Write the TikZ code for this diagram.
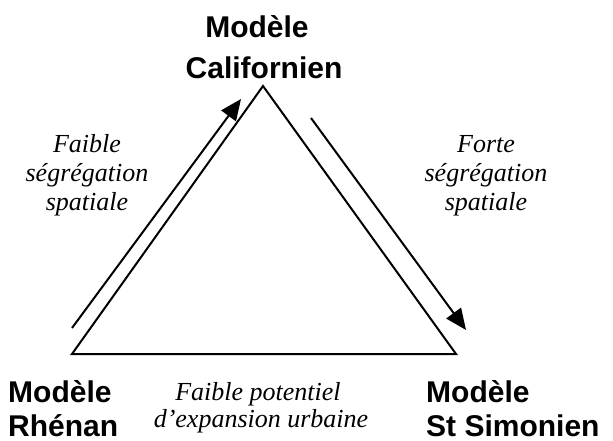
\documentclass[tikz,border=0pt]{standalone}
\usepackage{fontspec}
\setmainfont{Liberation Serif}
\setsansfont{Liberation Sans}
\usetikzlibrary{arrows.meta}
\tikzset{
  bold/.style={font=\sffamily\bfseries\fontsize{30}{36}\selectfont, inner sep=0pt},
  ital/.style={font=\itshape\fontsize{26}{30}\selectfont, inner sep=0pt},
  edge/.style={line width=2pt, line join=miter},
  flow/.style={line width=2pt, -{Triangle[length=21pt,width=18pt]}}
}
\begin{document}
\begin{tikzpicture}[x=1pt,y=-1pt]
\useasboundingbox (0,0) rectangle (613,441);
% triangle
\coordinate (A) at (263,86);
\coordinate (B) at (72,354);
\coordinate (C) at (456,354);
\draw[edge] (A) -- (B) -- (C) -- cycle;
% arrows
\coordinate (l1) at (72,328);
\coordinate (l2) at (241,99);
\coordinate (r1) at (311,118);
\coordinate (r2) at (466,330);
\draw[flow] (l1) -- (l2);
\draw[flow] (r1) -- (r2);
% top label
\node[bold, anchor=base] (t1) at (257,38) {Modèle};
\node[bold, anchor=base] (t2) at (264,79) {Californien};
% bottom left
\node[bold, anchor=base west] (bl1) at (8,402) {Modèle};
\node[bold, anchor=base west, text depth=0pt] (bl2) at (8,436) {Rhénan};
% bottom right
\node[bold, anchor=base west] (br1) at (426,402) {Modèle};
\node[bold, anchor=base west, text depth=0pt] (br2) at (426,436) {St Simonien};
% left italic
\node[ital, anchor=base] (lf1) at (87,153) {Faible};
\node[ital, anchor=base] (lf2) at (87,181) {ségrégation};
\node[ital, anchor=base] (lf3) at (87,210) {spatiale};
% right italic
\node[ital, anchor=base] (rf1) at (486,153) {Forte};
\node[ital, anchor=base] (rf2) at (486,181) {ségrégation};
\node[ital, anchor=base] (rf3) at (486,210) {spatiale};
% bottom italic
\node[ital, anchor=base] (bf1) at (258,400) {Faible potentiel};
\node[ital, anchor=base] (bf2) at (261,427) {d’expansion urbaine};
\end{tikzpicture}
\end{document}
